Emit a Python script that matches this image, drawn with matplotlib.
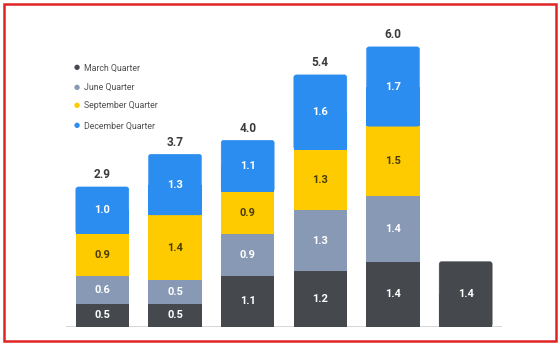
import matplotlib
matplotlib.use("Agg")
import matplotlib.pyplot as plt
from matplotlib.patches import Rectangle, FancyBboxPatch
import numpy as np

plt.rcParams['font.family'] = ['Roboto', 'DejaVu Sans']

series_names = ["March Quarter", "June Quarter", "September Quarter", "December Quarter"]
march = [0.5, 0.5, 1.1, 1.2, 1.4, 1.4]
june = [0.6, 0.5, 0.9, 1.3, 1.4, 0.0]
september = [0.9, 1.4, 0.9, 1.3, 1.5, 0.0]
december = [1.0, 1.3, 1.1, 1.6, 1.7, 0.0]
totals = ["2.9", "3.7", "4.0", "5.4", "6.0", None]

colors = ["#45494e", "#8799b4", "#fdcb00", "#2b8def"]
label_colors = ["white", "white", "#4a3d00", "white"]

W, H = 560, 344
fig = plt.figure(figsize=(W / 100, H / 100), dpi=100)
ax = fig.add_axes([66 / W, 17 / H, 436 / W, 303.5 / H])
ax.set_xlim(-0.5, 5.5)
ax.set_ylim(0, 6.5)
ax.axis('off')

x = np.arange(len(march))
bw = 0.73
data = [march, june, september, december]
bottoms = np.zeros(len(march))
px_x = 436 / 6.0
px_y = 303.5 / 6.5
r_px = 2.5
top_patch = [None] * len(march)
for si, vals in enumerate(data):
    vals = np.array(vals)
    bars = ax.bar(x, vals, bw, bottom=bottoms, color=colors[si], linewidth=0, zorder=2)
    for i, (b, v) in enumerate(zip(bars, vals)):
        if v > 0:
            top_patch[i] = (b, si)
            ax.text(b.get_x() + b.get_width() / 2, bottoms[i] + v / 2, f"{v:.1f}",
                    ha='center', va='center', fontsize=8, fontweight='bold',
                    color=label_colors[si], zorder=5)
    bottoms = bottoms + vals

# rounded top corners
for i, (b, si) in enumerate(top_patch):
    b.set_visible(False)
    bx, by, bwid, bh = b.get_x(), b.get_y(), b.get_width(), b.get_height()
    rs = r_px / px_x
    fb = FancyBboxPatch((bx, by), bwid, bh,
                        boxstyle=f"round,pad=0,rounding_size={rs}",
                        mutation_aspect=px_x / px_y,
                        facecolor=colors[si], edgecolor=colors[si], linewidth=0.3,
                        zorder=2)
    ax.add_patch(fb)
    ax.add_patch(Rectangle((bx, by), bwid, bh / 2, facecolor=colors[si],
                           edgecolor='none', zorder=2))

for i, t in enumerate(totals):
    if t:
        ax.text(x[i], bottoms[i] + 0.12, t, ha='center', va='bottom', fontsize=8.5,
                fontweight='bold', color='#3a3a3a', zorder=5)

ax.axhline(0, color='#d0d0d0', linewidth=1.2, zorder=1)

# legend
leg_y = [68, 87, 106, 126]
for name, c, yy in zip(series_names, colors, leg_y):
    fig.text(77 / W, 1 - yy / H, "\u25CF", color=c, fontsize=5, ha='center', va='center')
    fig.text(84 / W, 1 - yy / H, name, color='#505050', fontsize=6.3, ha='left', va='center')

# red border
fig.add_artist(Rectangle((3.5 / W, 3.5 / H), (W - 7.5) / W, (H - 7.5) / H,
                         transform=fig.transFigure, fill=False,
                         edgecolor='#e02424', linewidth=1.8))

fig.savefig("out.png", dpi=100)
